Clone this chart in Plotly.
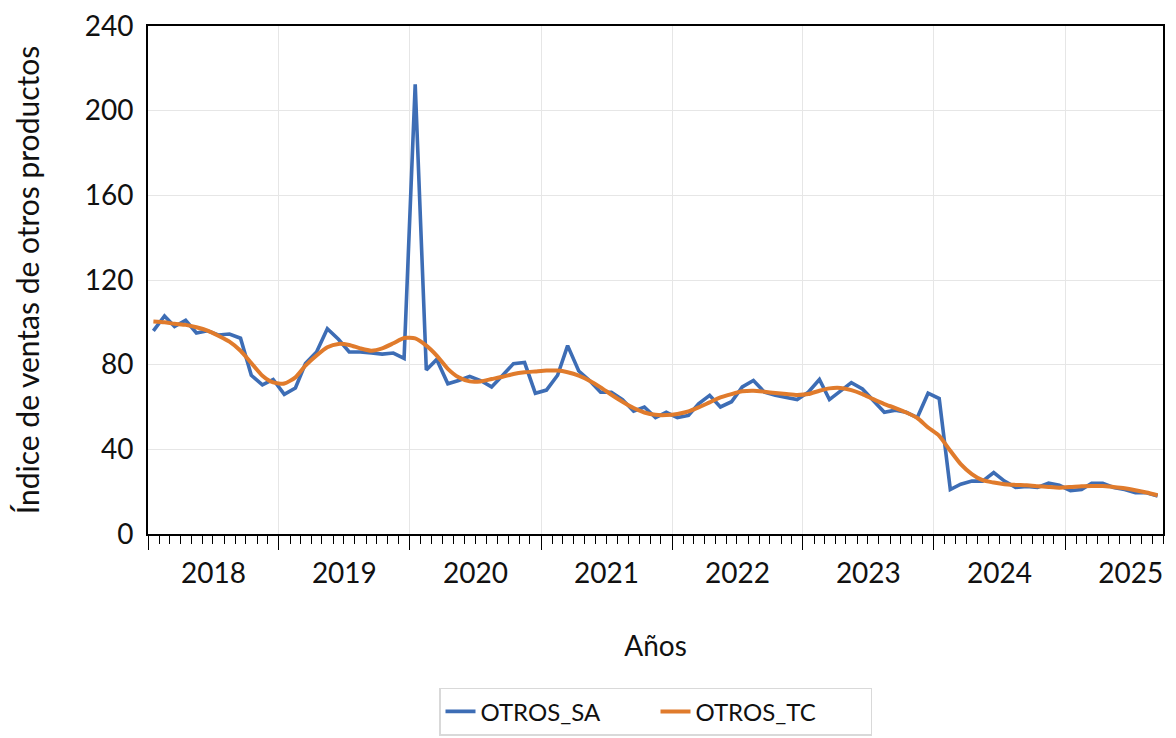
import pandas as pd
import plotly.graph_objects as go

start_month = "2018-01-01"
n_months = 93

otros_sa = [
    96, 103, 98, 101, 95, 96, 94, 94.5, 92.5, 75, 70.5, 73,
    66, 69, 80.5, 86, 97, 92, 86, 86, 85.5, 85, 85.5, 83,
    212.5, 77.5, 82.5, 71, 72.5, 74.5, 72.5, 69.5, 75, 80.5, 81, 66.5,
    68, 75, 89, 77, 72.5, 67, 67, 63.5, 58, 60, 55, 57.5,
    55, 56, 61.5, 65.5, 60, 62.5, 69.5, 72.5, 67, 65.5, 64.5, 63.5,
    67, 73, 63.5, 67.7, 71.5, 68.5, 63, 57.5, 58.5, 57.5, 55, 66.5,
    64, 21, 23.5, 25, 25, 29, 25, 22, 22.5, 22, 24, 23,
    20.5, 21, 24, 24, 22, 21, 19.5, 19.5, 18,
]

otros_tc = [
    100.4, 100, 99.3, 98.8, 97.7, 96.1, 93.7, 90.9, 86.6, 80.8, 74.8, 71.6,
    71.1, 74, 79.5, 84.3, 88.2, 89.8, 89.3, 87.7, 86.6, 87.7, 90.1, 92.6,
    92.4, 89, 84.3, 78, 74, 72.1, 72.1, 73.2, 74.3, 75.6, 76.4, 76.8,
    77.2, 77.2, 76.4, 74.8, 72.4, 69.3, 65.8, 62.5, 59.5, 57.4, 56.3, 56.2,
    56.7, 57.9, 59.8, 62.2, 64.5, 66.1, 67.4, 67.7, 67.2, 66.6, 66.1, 65.7,
    66.1, 67.7, 68.8, 69, 68, 66.1, 63.7, 61.4, 59.5, 57.4, 54.8, 50.3,
    46.4, 39.3, 33, 28.3, 25.4, 24.3, 23.5, 23.2, 23, 22.6, 22.2, 21.9,
    22.2, 22.6, 22.7, 22.7, 22.2, 21.6, 20.7, 19.6, 18.3,
]

y_ticks = [0, 40, 80, 120, 160, 200, 240]

dates = pd.date_range(start_month, periods=n_months, freq="MS") + pd.Timedelta(days=15)

FONT = "Lato"
BLUE = "#3d6db5"
ORANGE = "#e07b2c"

fig = go.Figure()
fig.add_trace(go.Scatter(x=dates, y=otros_sa, mode="lines", name="OTROS_SA",
                         line=dict(color=BLUE, width=3.6)))
fig.add_trace(go.Scatter(x=dates, y=otros_tc, mode="lines", name="OTROS_TC",
                         line=dict(color=ORANGE, width=4.0, shape="spline", smoothing=0.6)))

fig.update_layout(
    width=1176, height=738,
    margin=dict(l=148, r=13, t=26, b=204),
    paper_bgcolor="white", plot_bgcolor="white",
    font=dict(family=FONT, size=28, color="#111111"),
    showlegend=True,
    legend=dict(orientation="h", x=0.5, xanchor="center",
                yref="container", y=0.068, yanchor="top",
                bordercolor="#d9d9d9", borderwidth=1.5, font=dict(size=24),
                entrywidth=170, tracegroupgap=0),
)

fig.update_xaxes(
    range=["2018-01-01", "2025-10-01"],
    dtick="M12", tick0="2018-01-01", tickformat="%Y", ticklabelmode="period",
    ticks="outside", ticklen=14, tickcolor="black", tickwidth=1.3,
    minor=dict(ticks="outside", dtick="M1", ticklen=8, tickcolor="black", tickwidth=1.1, showgrid=False),
    showgrid=True, gridcolor="#e6e6e6", gridwidth=1.2,
    showline=True, linecolor="black", linewidth=1.6, mirror=True,
    tickfont=dict(size=28), ticklabelstandoff=0,
    title=dict(text="Años", font=dict(size=28), standoff=48),
    zeroline=False, automargin=False,
)
fig.update_yaxes(
    range=[0, 240], tickvals=y_ticks,
    ticks="outside", ticklen=7, tickcolor="rgba(0,0,0,0)",
    showgrid=True, gridcolor="#e6e6e6", gridwidth=1.2,
    showline=True, linecolor="black", linewidth=1.6, mirror=True,
    tickfont=dict(size=28),
    title=dict(text="Índice de ventas de otros productos", font=dict(size=30), standoff=36),
    zeroline=False, automargin=False,
)

fig.write_html("out.html", config={"displayModeBar": False},
               post_script="document.body.style.margin='0';document.body.style.overflow='hidden';")
